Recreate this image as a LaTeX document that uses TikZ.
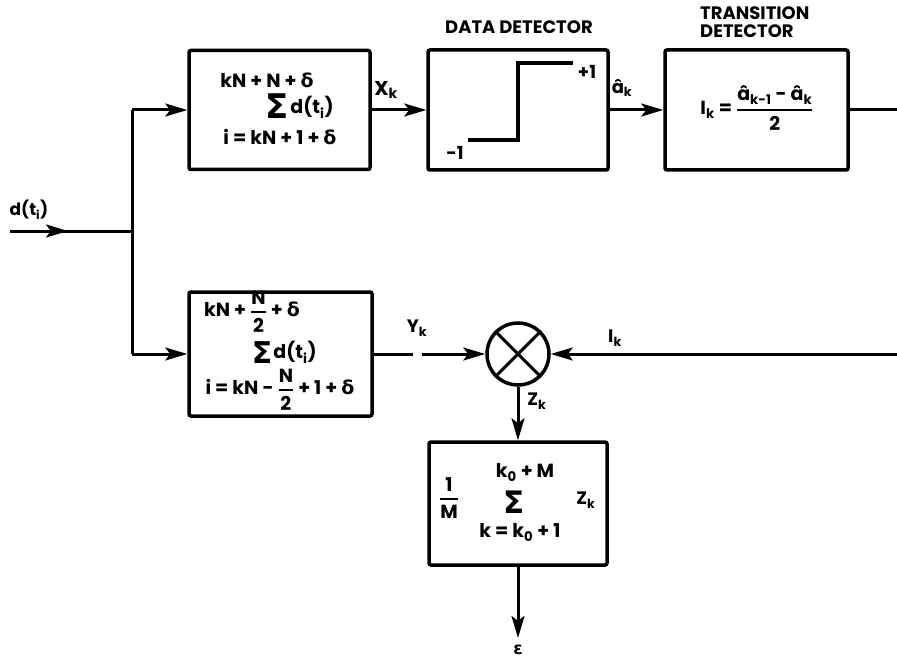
\documentclass[tikz,border=0pt]{standalone}
\usepackage{amsmath}
\usepackage{fontspec}
\setmainfont{Poppins}
\newfontfamily\gk{DejaVu Sans}
\usetikzlibrary{arrows.meta}
\newcommand\bfr[2]{\genfrac{}{}{1.8pt}{0}{\text{#1}}{\text{#2}}}
\begin{document}
\begin{tikzpicture}[x=1pt,y=-1pt,
  box/.style={draw, line width=3.5pt, rounded corners=2pt, inner sep=0pt},
  ln/.style={line width=3pt},
  arr/.style={ln, -{Stealth[length=22pt,width=13pt,inset=5pt]}},
  txt/.style={inner sep=0pt, font=\bfseries\fontsize{19}{21}\selectfont},
  ttl/.style={inner sep=0pt, font=\bfseries\fontsize{18}{18}\selectfont},
  lbl/.style={inner sep=0pt, font=\bfseries\fontsize{18}{20}\selectfont},
  sig/.style={inner sep=0pt, font=\gk\bfseries\fontsize{34}{34}\selectfont}]
\useasboundingbox (0,0) rectangle (897,658);
% boxes
\node[box, minimum width=181pt, minimum height=119pt] (b1) at (279.5,110) {};
\node[box, minimum width=180pt, minimum height=120pt] (dd) at (518,110) {};
\node[box, minimum width=183pt, minimum height=120pt] (td) at (756.5,110) {};
\node[box, minimum width=183pt, minimum height=124pt] (b2) at (280.5,354) {};
\node[circle, draw, line width=3.5pt, minimum size=62pt, inner sep=0pt] (mul) at (518,354) {};
\node[box, minimum width=178pt, minimum height=123pt] (b3) at (518,503.5) {};
\draw[line width=3pt] (mul.north west) -- (mul.south east) (mul.north east) -- (mul.south west);
% coordinates
\coordinate (in) at (10,231);
\coordinate (inA) at (68,231);
\coordinate (j) at (132,231);
\coordinate (jt) at (132,110);
\coordinate (jb) at (132,354);
\coordinate (outR) at (897,110);
\coordinate (ygA) at (413,354);
\coordinate (ygB) at (422,354);
\coordinate (iR) at (897,354);
\coordinate (epsA) at (518,638);
% connectors
\draw[ln] (in) -- (j);
\draw[arr] (in) -- (inA);
\draw[ln] (jt) -- (jb);
\draw[arr] (jt) -- (b1.west);
\draw[arr] (jb) -- (b2.west);
\draw[arr] (b1.east) -- (dd.west);
\draw[arr] (dd.east) -- (td.west);
\draw[ln] (td.east) -- (outR);
\draw[ln] (b2.east) -- (ygA);
\draw[arr] (ygB) -- (mul.west);
\draw[arr] (iR) -- (mul.east);
\draw[arr] (mul.south) -- (b3.north);
\draw[arr] (b3.south) -- (epsA);
% step characteristic
\draw[line width=3.5pt] (468,140) -- (518,140) -- (518,63) -- (573,63);
% texts
\node[lbl, font=\bfseries\fontsize{17}{19}\selectfont] (tin) at (29,210) {d(t\textsubscript{i})};
\node[txt] (b1t) at (267,80) {kN + N + {\gk δ}};
\node[sig] (b1s) at (277,106) {Σ};
\node[txt] (b1d) at (312,107) {d(t\textsubscript{i})};
\node[txt] (b1b) at (280,137) {i = kN + 1 + {\gk δ}};
\node[lbl, font=\bfseries\fontsize{20}{22}\selectfont] (xk) at (386,90) {X\textsubscript{k}};
\node[ttl] (ddt) at (519,27) {DATA DETECTOR};
\node[lbl] (p1) at (587,72) {+1};
\node[lbl] (m1) at (455,153) {-1};
\node[lbl] (ak) at (622,88) {â\textsubscript{k}};
\node[ttl, align=left, anchor=north west] (tdt) at (700,6) {TRANSITION\\DETECTOR};
\node[txt] (tdf) at (757,108) {I\textsubscript{k} = $\bfr{â\textsubscript{k-1} - â\textsubscript{k}}{2}$};
\node[txt] (b2t) at (252,312) {kN + $\bfr{N}{2}$ + {\gk δ}};
\node[sig, font=\gk\bfseries\fontsize{30}{30}\selectfont] (b2s) at (262,353) {Σ};
\node[txt] (b2d) at (295,352) {d(t\textsubscript{i})};
\node[txt] (b2b) at (280,390) {i = kN - $\bfr{N}{2}$ + 1 + {\gk δ}};
\node[lbl] (yk) at (417,328) {Y\textsubscript{k}};
\node[lbl] (ik) at (615,338) {I\textsubscript{k}};
\node[lbl] (zk) at (537,401) {Z\textsubscript{k}};
\node[txt] (b3f) at (449,498) {$\bfr{1}{M}$};
\node[txt] (b3t) at (525,472) {k\textsubscript{0} + M};
\node[sig, font=\gk\bfseries\fontsize{31}{31}\selectfont] (b3s) at (514,502) {Σ};
\node[txt] (b3b) at (520,532) {k = k\textsubscript{0} + 1};
\node[lbl] (b3z) at (586,500) {Z\textsubscript{k}};
\node[inner sep=0pt, font=\gk\bfseries\fontsize{17}{19}\selectfont] (eps) at (518,650) {ε};
\end{tikzpicture}
\end{document}
